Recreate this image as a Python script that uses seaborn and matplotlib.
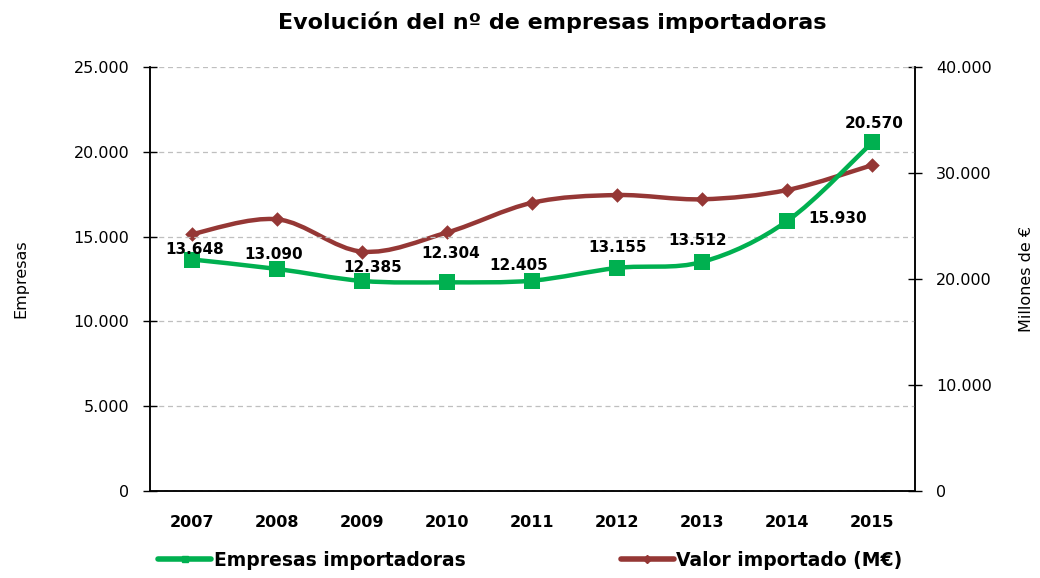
import numpy as np
import pandas as pd
import matplotlib
matplotlib.use('Agg')
import matplotlib.pyplot as plt
import seaborn as sns
from matplotlib.path import Path
from matplotlib.patches import PathPatch
from matplotlib.ticker import FuncFormatter, MultipleLocator

# Data
years = ['2007', '2008', '2009', '2010', '2011', '2012', '2013', '2014', '2015']
empresas = [13648, 13090, 12385, 12304, 12405, 13155, 13512, 15930, 20570]
valor = [24250, 25630, 22580, 24400, 27200, 27920, 27520, 28400, 30750]

df = pd.DataFrame({'pos': np.arange(len(years)), 'year': years,
                   'Empresas': empresas, 'Valor': valor})

GREEN = '#00B050'
RED = '#953735'

sns.set_style('white', rc={'text.color': 'black', 'axes.labelcolor': 'black',
                           'xtick.color': 'black', 'ytick.color': 'black'})
plt.rcParams['font.family'] = ['DejaVu Sans']


def smooth_path(x, y):
    # Excel-like smoothed line: Catmull-Rom segments as cubic Beziers
    p = np.column_stack([x, y]).astype(float)
    ext = np.vstack([p[0], p, p[-1]])
    verts = [p[0]]
    codes = [Path.MOVETO]
    for i in range(len(p) - 1):
        p0, p1, p2, p3 = ext[i], ext[i + 1], ext[i + 2], ext[i + 3]
        c1 = p1 + (p2 - p0) / 6
        c2 = p2 - (p3 - p1) / 6
        verts += [c1, c2, p2]
        codes += [Path.CURVE4] * 3
    return Path(verts, codes)


def fmt(v, _):
    return f'{int(v):,}'.replace(',', '.')


fig = plt.figure(figsize=(10.4, 5.78), dpi=100)
ax = fig.add_axes([0.1442, 0.1505, 0.7356, 0.7336])
ax2 = ax.twinx()
ax.set_zorder(ax2.get_zorder() + 1)
ax.patch.set_visible(False)

# Valor importado (right axis)
ax2.add_patch(PathPatch(smooth_path(df['pos'], df['Valor']), fill=False,
                        ec=RED, lw=3.2, capstyle='round', joinstyle='round'))
sns.scatterplot(data=df, x='pos', y='Valor', ax=ax2, marker='D', s=55,
                color=RED, edgecolor=RED, linewidth=0, zorder=3)

# Empresas importadoras (left axis)
ax.add_patch(PathPatch(smooth_path(df['pos'], df['Empresas']), fill=False,
                       ec=GREEN, lw=3.2, capstyle='round', joinstyle='round'))
sns.scatterplot(data=df, x='pos', y='Empresas', ax=ax, marker='s', s=130,
                color=GREEN, edgecolor=GREEN, linewidth=0, zorder=3)

offsets = [(2, 10), (-4, 14), (10, 13), (3, 29), (-14, 15),
           (0, 20), (-5, 21), (50, 2), (2, 19)]
for (px, v), (dx, dy) in zip(zip(df['pos'], df['Empresas']), offsets):
    ax.annotate(fmt(v, None), (px, v), xytext=(dx, dy), textcoords='offset pixels',
                ha='center', va='center', fontsize=11, fontweight='bold', zorder=5)

ax.set_xlim(-0.5, len(years) - 0.5)
ax.set_ylim(0, 25000)
ax2.set_ylim(0, 40000)
ax.yaxis.set_major_locator(MultipleLocator(5000))
ax2.yaxis.set_major_locator(MultipleLocator(10000))
ax.yaxis.set_major_formatter(FuncFormatter(fmt))
ax2.yaxis.set_major_formatter(FuncFormatter(fmt))

ax.set_xticks(df['pos'])
ax.set_xticklabels(years, fontsize=11.5, fontweight='bold')
ax.set_xticks(np.arange(-0.5, len(years)), minor=True)
ax.tick_params(axis='x', which='major', length=0, pad=17)
ax.tick_params(axis='x', which='minor', direction='inout', length=9, width=1)
ax.tick_params(axis='y', direction='inout', length=10, width=1, labelsize=11.5, pad=10)
ax2.tick_params(axis='y', direction='inout', length=10, width=1, labelsize=11.5, pad=10)

ax.grid(axis='y', color='#BFBFBF', linestyle=(0, (4, 3)), lw=0.9)
ax.set_axisbelow(True)
ax2.grid(False)
for a in (ax, ax2):
    a.spines['top'].set_visible(False)
    for s in ('left', 'right', 'bottom'):
        a.spines[s].set_color('black')
        a.spines[s].set_linewidth(1.1)

ax.set_xlabel('')
ax.set_ylabel('Empresas', fontsize=11.5, labelpad=32)
ax2.set_ylabel('Millones de €', fontsize=11.5, labelpad=20)

fig.suptitle('Evolución del nº de empresas importadoras', fontsize=16,
             fontweight='bold', x=0.531, y=0.98)

h1 = plt.Line2D([], [], color=GREEN, lw=4, marker='s', ms=5)
h2 = plt.Line2D([], [], color=RED, lw=4, marker='D', ms=4)
fig.legend([h1, h2], ['Empresas importadoras', 'Valor importado (M€)'],
           loc='lower left', bbox_to_anchor=(0.136, -0.015), ncol=2, frameon=False,
           prop={'weight': 'bold', 'size': 13.5}, handlelength=2.8,
           handletextpad=0.15, columnspacing=8.3)

fig.savefig('out.png', dpi=100)
